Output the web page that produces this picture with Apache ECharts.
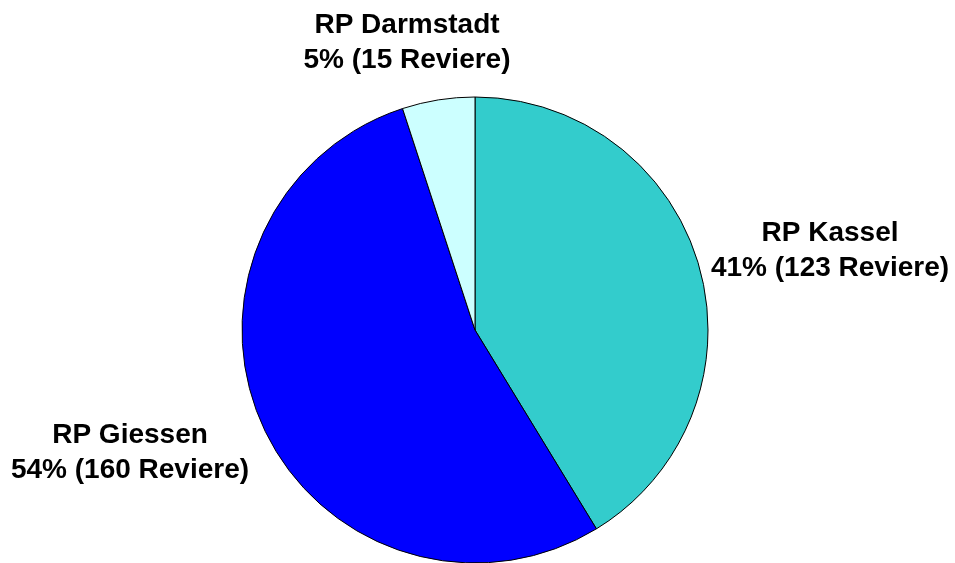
<!DOCTYPE html>
<html><head><meta charset="utf-8">
<script src="https://cdn.jsdelivr.net/npm/echarts@6/dist/echarts.min.js"></script>
<style>html,body{margin:0;padding:0;background:#fff}#c{width:955px;height:563px}</style>
</head><body><div id="c"></div>
<script>
const categories = ['RP Kassel', 'RP Giessen', 'RP Darmstadt'];
const values = [123, 160, 15];
const percents = ['41%', '54%', '5%'];
const colors = ['#33CCCC', '#0000FF', '#CCFFFF'];
const labelPos = [[830, 251], [130, 453], [407, 43]];

const chart = echarts.init(document.getElementById('c'), null, {renderer: 'canvas'});
chart.setOption({
  backgroundColor: '#ffffff',
  animation: false,
  series: [{
    type: 'pie',
    center: [475, 330],
    radius: 233,
    startAngle: 90,
    clockwise: true,
    avoidLabelOverlap: false,
    itemStyle: {borderColor: '#000', borderWidth: 1},
    label: {
      show: true,
      position: 'outside',
      color: '#000',
      fontFamily: 'Liberation Sans, Arial, sans-serif',
      fontWeight: 'bold',
      fontSize: 28,
      lineHeight: 35,
      align: 'center',
      formatter: p => p.name + '\n' + percents[p.dataIndex] + ' (' + p.value + ' Reviere)'
    },
    labelLine: {show: false},
    labelLayout: p => ({x: labelPos[p.dataIndex][0], y: labelPos[p.dataIndex][1], align: 'center', verticalAlign: 'middle'}),
    emphasis: {disabled: true},
    data: categories.map((c, i) => ({name: c, value: values[i], itemStyle: {color: colors[i]}}))
  }]
});
</script></body></html>
